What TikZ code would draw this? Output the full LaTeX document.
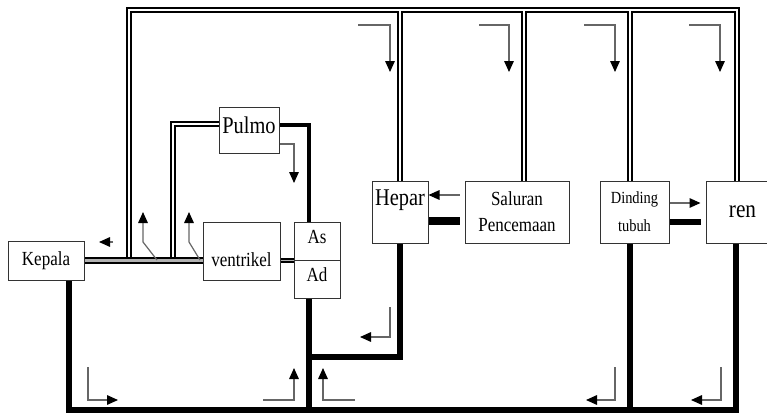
\documentclass[tikz,border=0pt]{standalone}
\usepackage{fontspec}
\setmainfont{Liberation Serif}[FakeStretch=0.85]
\usetikzlibrary{arrows.meta, backgrounds}

\begin{document}
\begin{tikzpicture}[
    x=0.5pt, y=-0.5pt,
    organ/.style={draw=black!80, line width=0.5pt, inner sep=0pt, minimum height=31pt, font=\fontsize{10}{13}\selectfont},
    pipe/.style={draw=black, double=white, line width=0.9pt, double distance=1.1pt},
    vena/.style={draw=black, line width=3pt},
    flow/.style={draw=black!60, line width=0.6pt, -{Triangle[length=5.5pt, width=4.8pt, color=black]}}
]
    \useasboundingbox (0,0) rectangle (767,413);
    \clip (0,0) rectangle (767,413);

    % organs
    \node[organ, minimum width=38pt, minimum height=19.5pt] (kepala) at (46,260.5) {Kepala};
    \node[organ, minimum width=38.5pt, minimum height=29pt, text height=22pt, text depth=7pt] (ventrikel) at (241.5,251) {ventrikel};
    \node[organ, minimum width=23pt, minimum height=19pt, text height=10.5pt, text depth=8.5pt] (as) at (317,241) {As};
    \node[organ, minimum width=23pt, minimum height=19pt, text height=10.5pt, text depth=8.5pt] (ad) at (317,279) {Ad};
    \node[organ, minimum width=30pt, minimum height=23pt, text height=13pt, text depth=10pt, font=\fontsize{12}{14}\selectfont] (pulmo) at (249,130) {Pulmo};
    \node[organ, minimum width=28pt, text height=12pt, text depth=19pt, font=\fontsize{12}{14}\selectfont] (hepar) at (400,212) {Hepar};
    \node[organ, minimum width=52pt, align=center] (saluran) at (517,212) {Saluran\\Pencemaan};
    \node[organ, minimum width=34.5pt, align=center, font=\fontsize{8.5}{14}\selectfont] (dinding) at (634.5,212) {Dinding\\tubuh};
    \node[organ, minimum width=36.5pt, font=\fontsize{12.5}{14}\selectfont] (ren) at (742.5,212) {ren};

    % junctions
    \coordinate (kiri) at (129,261);
    \coordinate (paru) at (173,261);
    \coordinate (tkiri) at (129,10);
    \coordinate (tHepar) at (400,10);
    \coordinate (tSal) at (524,10);
    \coordinate (tDin) at (630,10);
    \coordinate (tRen) at (737,10);
    \coordinate (bKep) at (69,410);
    \coordinate (bAd) at (309,410);
    \coordinate (bDin) at (630,410);
    \coordinate (bRen) at (736,410);
    \coordinate (hAd) at (309,357);
    \coordinate (pTip) at (294,183);

    \begin{scope}[on background layer]
        % double vessels
        \draw[pipe] (kiri) -- (tkiri) -- (tRen) -- (tRen |- ren.north)
            (tHepar) -- (hepar.north)
            (tSal) -- (tSal |- saluran.north)
            (tDin) -- (tDin |- dinding.north);
        \draw[pipe] ([yshift=3pt]pulmo.west) -| (paru);
        \draw[pipe, double=gray!60, line width=1pt, double distance=1.3pt] (kepala.east) -- (kepala.east -| ventrikel.west);
        \draw[pipe, double=gray!60, line width=0.6pt, double distance=0.9pt] (ventrikel.east |- as.south) -- (as.south west);

        % thick vessels
        \draw[vena, line width=2.3pt] ([yshift=2.5pt]pulmo.east) -| ([xshift=-4pt]as.north);
        \draw[vena] (bKep |- kepala.south) -- (bKep) -- (bRen) -- (bRen |- ren.south);
        \draw[vena] (bAd) -- (bAd |- ad.south);
        \draw[vena] (bDin) -- (bDin |- dinding.south);
        \draw[vena] (hAd) -| (hepar.south);
        \draw[vena, line width=3.6pt, shorten >=2.5pt] ([yshift=-4.5pt]hepar.east) -- ([yshift=-4.5pt]saluran.west);
        \draw[vena, line width=3.3pt, shorten >=2.5pt] ([yshift=-5pt]dinding.east) -- ([yshift=-5pt]ren.west);
    \end{scope}

    % flow arrows
    \draw[flow, shorten <=2.5pt] ([yshift=8.5pt]saluran.west) -- ([yshift=8.5pt]hepar.east);
    \draw[flow, shorten >=2.5pt] ([yshift=4.5pt]dinding.east) -- ([yshift=4.5pt]ren.west);
    \draw[flow] ([yshift=-7pt]pulmo.east) -| (pTip);
    \draw[flow] (113,242) -- (99,242);
    \draw[flow] (157,260) -- (143,242) -- (143,212);
    \draw[flow] (200,260) -- (189,242) -- (189,212);
    \draw[flow] (358,25) -| (390,72);
    \draw[flow] (479,25) -| (509,72);
    \draw[flow] (584,25) -| (615,72);
    \draw[flow] (689,25) -| (720,72);
    \draw[flow] (88,367) |- (118,400);
    \draw[flow] (263,400) -| (294,368);
    \draw[flow] (355,400) -| (323,368);
    \draw[flow] (390,307) |- (360,337);
    \draw[flow] (615,367) |- (586,400);
    \draw[flow] (721,367) |- (691,400);
\end{tikzpicture}
\end{document}
